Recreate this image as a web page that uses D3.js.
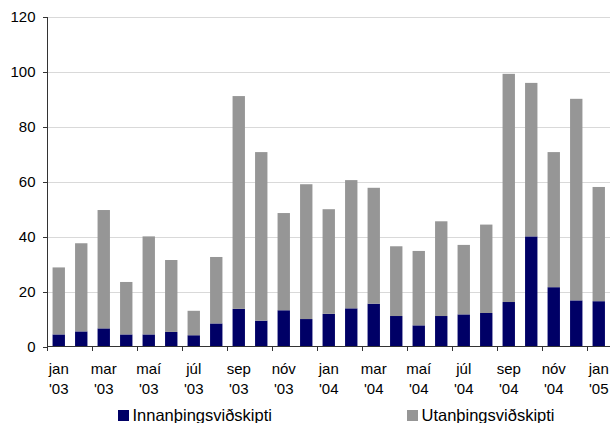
<!DOCTYPE html>
<html>
<head>
<meta charset="utf-8">
<script src="https://cdn.jsdelivr.net/npm/d3@7"></script>
<style>
  html, body { margin: 0; padding: 0; background: #fff; }
  svg { display: block; font-family: "Liberation Sans", Arial, sans-serif; }
</style>
</head>
<body>
<svg id="chart" width="610" height="423"></svg>
<script>
// Monthly trading, split into on-exchange and off-exchange parts
const months = ["jan '03","feb '03","mar '03","apr '03","maí '03","jún '03","júl '03","ágú '03","sep '03","okt '03","nóv '03","des '03",
                "jan '04","feb '04","mar '04","apr '04","maí '04","jún '04","júl '04","ágú '04","sep '04","okt '04","nóv '04","des '04",
                "jan '05"];
const innan = [4.4, 5.5, 6.6, 4.4, 4.4, 5.3, 4.1, 8.4, 13.7, 9.4, 13.2, 10.0,
               11.9, 13.9, 15.6, 11.1, 7.7, 11.1, 11.7, 12.2, 16.2, 40.1, 21.6, 16.8,
               16.5];
const utan = [24.4, 32.1, 43.1, 19.1, 35.7, 26.2, 8.9, 24.2, 77.5, 61.4, 35.4, 49.1,
              38.1, 46.7, 42.2, 25.4, 27.1, 34.5, 25.3, 32.2, 83.1, 55.9, 49.2, 73.4,
              41.6];
const seriesNames = ["Innanþingsviðskipti", "Utanþingsviðskipti"];
const seriesColors = ["#000066", "#969696"];
const yTicks = [0, 20, 40, 60, 80, 100, 120];

const rows = months.map((m, i) => ({ month: m, innan: innan[i], utan: utan[i] }));
const stacked = d3.stack().keys(["innan", "utan"])(rows);

const svg = d3.select("#chart");
const plotLeft = 47.5, plotRight = 610, plotTop = 17, plotBottom = 346.5;

const x = d3.scaleBand().domain(months).range([plotLeft, plotRight])
  .paddingInner(0.45).paddingOuter(0.225);
const y = d3.scaleLinear().domain([0, 120]).range([plotBottom, plotTop]);

// horizontal gridlines
svg.append("g").selectAll("line").data(yTicks.filter(d => d > 0)).join("line")
  .attr("x1", plotLeft).attr("x2", plotRight)
  .attr("y1", d => Math.round(y(d)) + 0.5).attr("y2", d => Math.round(y(d)) + 0.5)
  .attr("stroke", "#d9d9d9").attr("stroke-width", 1);

// stacked bars
svg.append("g").selectAll("g").data(stacked).join("g")
  .attr("fill", (d, i) => seriesColors[i])
  .selectAll("rect").data(d => d).join("rect")
  .attr("x", d => x(d.data.month))
  .attr("width", x.bandwidth())
  .attr("y", d => y(d[1]))
  .attr("height", d => y(d[0]) - y(d[1]));

// y axis
const yAxis = svg.append("g").attr("transform", `translate(${plotLeft},0)`)
  .call(d3.axisLeft(y).tickValues(yTicks).tickSize(5).tickPadding(7).tickFormat(d3.format("d")));
yAxis.select(".domain").attr("d", `M0,${plotTop}V${plotBottom}`);
yAxis.selectAll("line, path").attr("stroke", "#333").attr("shape-rendering", "crispEdges");
yAxis.selectAll("text").attr("font-size", 15).attr("fill", "#000")
  .attr("font-family", "Liberation Sans, Arial, sans-serif");

// x axis: tick marks every second month, at band edges
const step = x.step();
const tickMonths = months.filter((m, i) => i % 2 === 0);
const edge = d => x(d) - x.paddingOuter() * step;
const xAxis = svg.append("g");
xAxis.append("line").attr("x1", plotLeft).attr("x2", plotRight)
  .attr("y1", plotBottom).attr("y2", plotBottom)
  .attr("stroke", "#333").attr("shape-rendering", "crispEdges");
xAxis.selectAll("line.tick").data(tickMonths).join("line").attr("class", "tick")
  .attr("x1", edge).attr("x2", edge)
  .attr("y1", plotBottom).attr("y2", plotBottom + 4)
  .attr("stroke", "#333").attr("shape-rendering", "crispEdges");

// two-line month labels under every second bar
const labels = xAxis.selectAll("text").data(tickMonths).join("text")
  .attr("text-anchor", "middle").attr("font-size", 15).attr("fill", "#000");
labels.each(function (d) {
  const parts = d.split(" ");
  const cx = x(d) + x.bandwidth() / 2;
  const t = d3.select(this);
  t.append("tspan").attr("x", cx).attr("y", 374).text(parts[0]);
  t.append("tspan").attr("x", cx).attr("y", 394).text(parts[1]);
});

// legend
const legendX = [118, 407];
const legend = svg.append("g").selectAll("g").data(seriesNames).join("g")
  .attr("transform", (d, i) => `translate(${legendX[i]},410)`);
legend.append("rect").attr("width", 11).attr("height", 11)
  .attr("fill", (d, i) => seriesColors[i]);
legend.append("text").attr("x", 14.5).attr("y", 11)
  .attr("font-size", 16.5).attr("fill", "#000").text(d => d);
</script>
</body>
</html>
